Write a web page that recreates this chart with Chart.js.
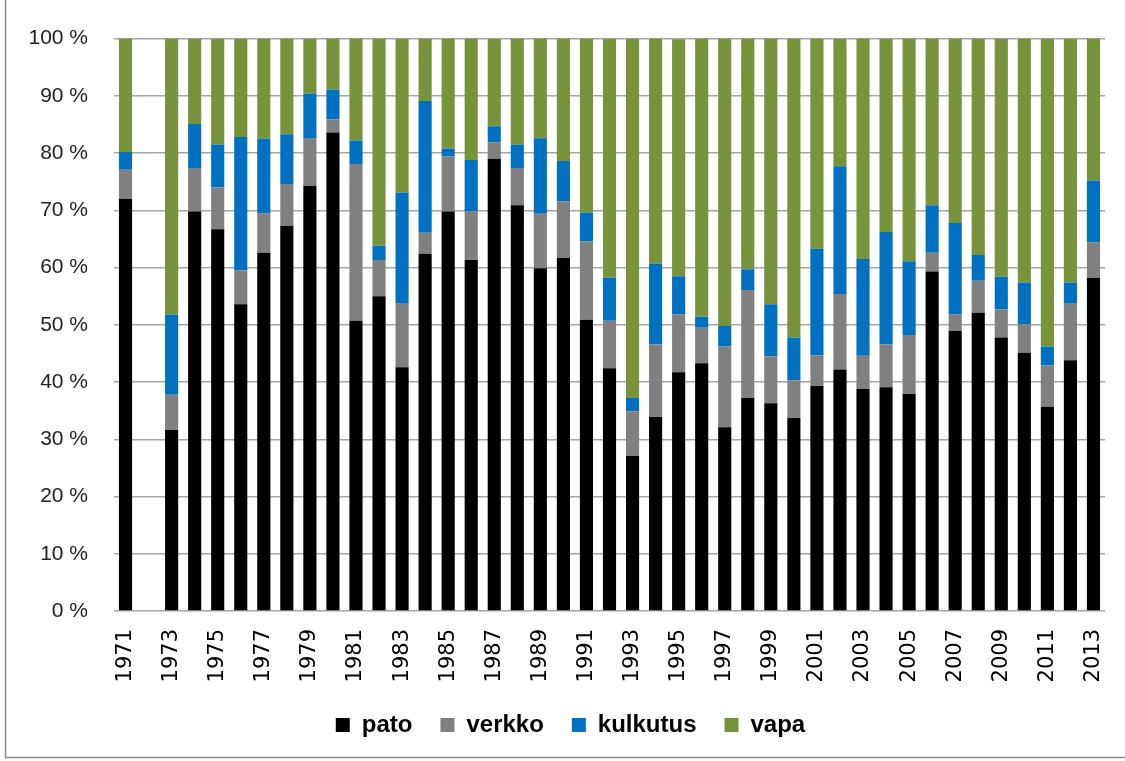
<!DOCTYPE html>
<html>
<head>
<meta charset="utf-8">
<script src="https://cdn.jsdelivr.net/npm/chart.js@4/dist/chart.umd.min.js"></script>
<style>
  html, body { margin: 0; padding: 0; background: #fff; }
  #wrap { width: 1125px; height: 761px; position: relative; }
</style>
</head>
<body>
<div id="wrap"><canvas id="kaavio" width="1125" height="761"></canvas></div>
<script>
// vuodet 1971-2013, osuudet (%) pyyntitavoittain
const vuodet = ['1971', '1972', '1973', '1974', '1975', '1976', '1977', '1978', '1979', '1980',
  '1981', '1982', '1983', '1984', '1985', '1986', '1987', '1988', '1989', '1990',
  '1991', '1992', '1993', '1994', '1995', '1996', '1997', '1998', '1999', '2000',
  '2001', '2002', '2003', '2004', '2005', '2006', '2007', '2008', '2009', '2010',
  '2011', '2012', '2013'];

const pato = [72.0, null, 31.6, 69.8, 66.7, 53.6, 62.6, 67.3, 74.3, 83.6,
  50.7, 55.0, 42.6, 62.4, 69.8, 61.3, 79.0, 70.9, 59.9, 61.7,
  50.9, 42.4, 27.1, 33.9, 41.7, 43.3, 32.1, 37.2, 36.3, 33.7,
  39.3, 42.2, 38.8, 39.1, 37.9, 59.3, 48.9, 52.1, 47.8, 45.1,
  35.7, 43.8, 58.2];

const verkko = [5.1, null, 6.2, 7.6, 7.3, 5.9, 6.9, 7.3, 8.2, 2.3,
  27.4, 6.3, 11.2, 3.7, 9.6, 8.5, 2.9, 6.5, 9.5, 9.9,
  13.7, 8.3, 7.8, 12.7, 10.1, 6.2, 14.1, 18.9, 8.2, 6.6,
  5.4, 13.2, 5.8, 7.5, 10.3, 3.3, 2.9, 5.6, 4.9, 5.0,
  7.2, 10.0, 6.2];

const kulkutus = [3.1, null, 14.0, 7.7, 7.5, 23.3, 13.0, 8.7, 7.9, 5.2,
  4.1, 2.5, 19.3, 23.0, 1.4, 9.0, 2.8, 4.1, 13.2, 7.0,
  5.0, 7.5, 2.3, 14.1, 6.7, 1.9, 3.6, 3.6, 9.1, 7.5,
  18.6, 22.3, 16.9, 19.6, 12.9, 8.3, 16.0, 4.5, 5.7, 7.3,
  3.3, 3.6, 10.8];

const vapa = [19.8, null, 48.2, 14.9, 18.5, 17.2, 17.5, 16.7, 9.6, 8.9,
  17.8, 36.2, 26.9, 10.9, 19.2, 21.2, 15.3, 18.5, 17.4, 21.4,
  30.4, 41.8, 62.8, 39.3, 41.4, 48.6, 50.2, 40.3, 46.4, 52.2,
  36.7, 22.3, 38.5, 33.8, 38.9, 29.1, 32.2, 37.8, 41.6, 42.6,
  53.8, 42.6, 24.8];

const yTicks = [0, 10, 20, 30, 40, 50, 60, 70, 80, 90, 100];

// reunaviiva kuten alkuperäisessä kuvassa, selite hieman oikealle
const reunus = {
  id: 'reunus',
  afterLayout(chart) {
    chart.legend.left += 18;
    chart.legend.right += 18;
  },
  beforeDraw(chart) {
    const c = chart.ctx;
    c.save();
    c.strokeStyle = '#8c8c8c';
    c.lineWidth = 1.5;
    c.beginPath();
    c.moveTo(5.5, 0);
    c.lineTo(5.5, 757.5);
    c.lineTo(1125, 757.5);
    c.stroke();
    c.restore();
  }
};

function sarja(nimi, data, vari) {
  return {
    label: nimi,
    data: data,
    backgroundColor: vari,
    borderWidth: 0,
    categoryPercentage: 1.0,
    barPercentage: 0.57
  };
}

new Chart(document.getElementById('kaavio').getContext('2d'), {
  type: 'bar',
  data: {
    labels: vuodet,
    datasets: [
      sarja('pato', pato, '#000000'),
      sarja('verkko', verkko, '#808080'),
      sarja('kulkutus', kulkutus, '#0070C0'),
      sarja('vapa', vapa, '#77933C')
    ]
  },
  options: {
    responsive: false,
    animation: false,
    layout: { padding: { top: 37, right: 20, bottom: 14, left: 0 } },
    plugins: {
      tooltip: { enabled: false },
      legend: {
        position: 'bottom',
        labels: {
          boxWidth: 14,
          boxHeight: 14,
          padding: 28,
          color: '#000',
          font: { family: "'Liberation Sans', Arial, sans-serif", size: 24, weight: 'bold' }
        }
      }
    },
    scales: {
      x: {
        stacked: true,
        grid: { display: false },
        border: { display: false },
        ticks: {
          autoSkip: false,
          minRotation: 90,
          maxRotation: 90,
          padding: 10,
          color: '#000',
          font: { family: "'DejaVu Sans', sans-serif", size: 21 },
          callback: function (v, i) { return i % 2 === 0 ? vuodet[i] : ''; }
        },
        afterFit: function (s) {
          s.height = 74;
          s.paddingLeft = 0;
          s.paddingRight = 0;
        }
      },
      y: {
        stacked: true,
        min: 0,
        max: 100,
        afterBuildTicks: function (s) { s.ticks = yTicks.map(v => ({ value: v })); },
        grid: { color: '#a6a6a6', lineWidth: 1.5, drawTicks: false },
        border: { display: false },
        ticks: {
          padding: 26,
          color: '#222',
          font: { family: "'Liberation Sans', Arial, sans-serif", size: 21 },
          callback: function (v) { return v + ' %'; }
        },
        afterFit: function (s) { s.width = 114; }
      }
    }
  },
  plugins: [reunus]
});
</script>
</body>
</html>
